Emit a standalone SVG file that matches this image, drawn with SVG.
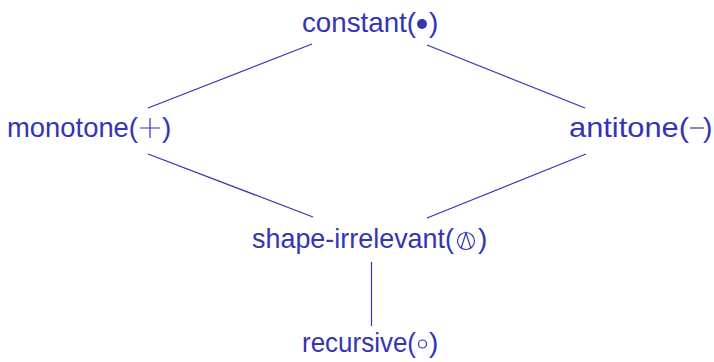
<svg xmlns="http://www.w3.org/2000/svg" width="714" height="362" viewBox="0 0 714 362">
<style>
text{font-family:"Liberation Sans","DejaVu Sans",sans-serif;font-size:28px;fill:#3434b4}
.e{stroke:#3434b4;stroke-width:1.2;fill:none}
</style>
<rect width="714" height="362" fill="#fff"/>
<g id="connectors">
<line class="e" x1="312" y1="44" x2="148" y2="108"/>
<line class="e" x1="427" y1="45" x2="585" y2="108"/>
<line class="e" x1="148" y1="154" x2="313" y2="217"/>
<line class="e" x1="586" y1="154" x2="427" y2="218"/>
<line class="e" x1="371.5" y1="262" x2="371.5" y2="326" stroke-width="1.4"/>
</g>
<g id="constant">
<text x="302" y="32" textLength="114" lengthAdjust="spacingAndGlyphs">constant(</text>
<circle cx="422" cy="24" r="5" fill="#3434b4"/>
<text x="429" y="32">)</text>
</g>
<g id="monotone">
<text x="7" y="137" textLength="131" lengthAdjust="spacingAndGlyphs">monotone(</text>
<path class="e" d="M140,128H160M150,118V138" stroke-width="1.6"/>
<text x="162" y="137">)</text>
</g>
<g id="antitone">
<text x="569" y="137" textLength="120" lengthAdjust="spacingAndGlyphs">antitone(</text>
<path class="e" d="M690,128H704" stroke-width="1.6"/>
<text x="703" y="137">)</text>
</g>
<g id="shape-irrelevant">
<text x="252" y="248" textLength="202" lengthAdjust="spacingAndGlyphs">shape-irrelevant(</text>
<circle class="e" cx="466" cy="241" r="8.5" stroke-width="1.3"/>
<path class="e" d="M461,248.5L466,233L471,248.5" stroke-width="1.3"/>
<text x="478" y="248">)</text>
</g>
<g id="recursive">
<text x="302" y="352" textLength="114" lengthAdjust="spacingAndGlyphs">recursive(</text>
<circle class="e" cx="422.5" cy="344" r="4" stroke-width="1.4"/>
<text x="429" y="352">)</text>
</g>
</svg>
